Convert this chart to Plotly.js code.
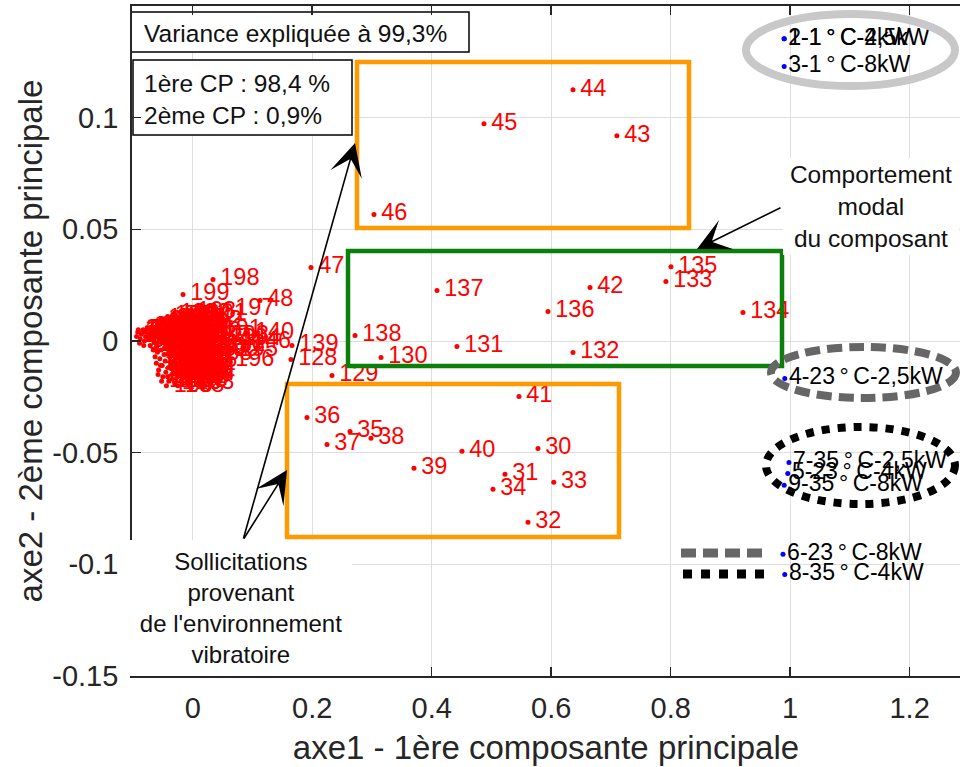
<!DOCTYPE html>
<html>
<head>
<meta charset="utf-8">
<script src="https://cdn.plot.ly/plotly-3.0.1.min.js"></script>
<style>
  html, body { margin: 0; padding: 0; background: #ffffff; }
  #chart { width: 960px; height: 767px; }
</style>
</head>
<body>
<div id="chart"></div>
<script>
// ================= DATA =================
// Isolated, readable points (id, axe1, axe2)
const outlierIds = [44,45,43,46,135,133,42,137,136,134,138,131,132,130,41,36,35,38,37,40,30,39,31,33,34,32,47,198,199,48,197,140,139,128,129];
const outlierX = [0.6365,0.4875,0.7100,0.3034,0.8005,0.7920,0.6650,0.4089,0.5947,0.9210,0.2717,0.4423,0.6365,0.3152,0.5461,0.1913,0.2633,0.2984,0.2248,0.4507,0.5779,0.3704,0.5227,0.6044,0.5026,0.5612,0.1980,0.0340,-0.0162,0.1126,0.0591,0.0920,0.1662,0.1645,0.2331];
const outlierY = [0.1125,0.0973,0.0919,0.0566,0.0333,0.0266,0.0239,0.0226,0.0132,0.0128,0.0025,-0.0025,-0.0051,-0.0074,-0.0248,-0.0342,-0.0405,-0.0436,-0.0463,-0.0494,-0.0481,-0.0570,-0.0597,-0.0633,-0.0664,-0.0812,0.0329,0.0275,0.0208,0.0181,0.0141,0.0034,-0.0020,-0.0083,-0.0154];

// Dense cluster near the origin (estimated positions)
const clusterIds = [
  1,2,3,4,5,6,7,8,9,10,11,12,13,14,15,16,17,18,19,20,21,22,23,24,25,26,27,28,29,
  49,50,51,52,53,54,55,56,57,58,59,60,61,62,63,64,65,66,67,68,69,70,71,72,73,74,75,76,77,78,79,80,
  81,82,83,84,85,86,87,88,89,90,91,92,93,94,95,96,97,98,99,100,101,102,103,104,105,106,107,108,109,110,111,112,113,
  114,115,116,117,118,119,120,121,122,123,124,125,126,127,141,142,143,144,145,147,148,149,150,151,152,153,154,155,
  156,157,158,159,160,161,162,163,164,165,166,167,168,169,170,171,172,173,174,175,176,177,178,179,180,181,182,183,184,185,
  146,186,187,188,189,190,191,192,193,194,195,196
];
const clusterX = [
  -0.094,-0.091,-0.089,-0.086,-0.083,-0.081,-0.078,-0.076,-0.074,-0.071,
  -0.069,-0.067,-0.064,-0.062,-0.060,-0.058,-0.056,-0.054,-0.052,-0.050,
  -0.048,-0.046,-0.044,-0.043,-0.041,-0.039,-0.037,-0.035,-0.034,-0.032,
  -0.030,-0.028,-0.027,-0.025,-0.023,-0.021,-0.020,-0.018,-0.016,-0.014,
  -0.013,-0.011,-0.009,-0.008,-0.006,-0.004,-0.003,-0.001,0.001,0.003,
  0.005,0.007,0.009,0.011,-0.088,-0.079,-0.072,-0.065,-0.061,-0.055,
  -0.049,-0.045,-0.040,-0.036,-0.031,-0.026,-0.022,-0.017,-0.012,-0.007,
  -0.002,0.002,-0.084,-0.070,-0.057,-0.047,-0.038,-0.029,-0.019,-0.010,
  0.004,0.013,-0.015,-0.005,-0.092,-0.082,-0.068,-0.053,-0.042,-0.033,
  -0.024,-0.003,0.008,-0.077,
  -0.066,-0.063,-0.061,-0.059,-0.057,-0.055,-0.053,-0.051,-0.050,-0.048,
  -0.046,-0.045,-0.043,-0.041,-0.040,-0.038,-0.037,-0.035,-0.033,-0.032,
  -0.030,-0.029,-0.027,-0.026,-0.024,-0.023,-0.021,-0.020,-0.018,-0.017,
  -0.015,-0.014,-0.012,-0.011,-0.009,-0.008,-0.006,-0.005,-0.044,-0.034,
  -0.025,-0.019,-0.013,-0.052,-0.058,-0.062,-0.039,-0.031,-0.016,-0.010,
  -0.028,-0.047,-0.036,-0.022,-0.054,-0.042,-0.007,-0.003,
  0.087,0.012,0.018,0.022,0.028,0.033,0.038,0.044,0.050,0.070,0.065,0.059
];
const clusterY = [
  0.002,0.005,-0.001,0.003,0.005,0.000,0.004,0.006,0.001,-0.002,
  0.005,0.005,0.002,0.004,-0.001,0.007,0.003,0.006,0.000,0.009,
  0.004,0.002,0.007,-0.002,0.005,0.010,0.001,0.006,0.003,0.008,
  -0.001,0.005,0.011,0.002,0.007,0.004,-0.002,0.009,0.003,0.006,
  0.000,0.011,0.005,0.002,0.008,-0.001,0.004,0.010,0.006,0.001,
  0.008,0.003,-0.001,0.005,0.001,0.002,0.003,0.000,0.006,0.001,
  0.005,-0.001,0.003,0.009,0.002,0.006,0.000,0.005,0.002,0.006,
  0.002,0.009,0.004,0.001,0.004,0.008,0.000,0.003,0.001,0.007,
  0.004,0.012,0.012,0.013,0.004,-0.002,0.006,0.010,0.011,0.012,
  0.010,0.011,0.009,0.005,
  -0.004,-0.007,-0.010,-0.005,-0.013,-0.008,-0.004,-0.011,-0.016,-0.006,
  -0.009,-0.014,-0.003,-0.012,-0.018,-0.007,-0.010,-0.015,-0.005,-0.013,
  -0.019,-0.008,-0.011,-0.016,-0.004,-0.014,-0.009,-0.018,-0.006,-0.012,
  -0.016,-0.003,-0.010,-0.014,-0.007,-0.019,-0.012,-0.004,-0.020,-0.017,
  -0.020,-0.015,-0.008,-0.018,-0.015,-0.003,-0.005,-0.003,-0.010,-0.017,
  -0.014,-0.003,-0.012,-0.007,-0.011,-0.016,-0.015,-0.009,
  -0.0005,-0.003,0.002,-0.006,0.001,-0.004,0.005,-0.002,0.002,0.001,-0.004,-0.0086
];

// Operating conditions (blue points, black labels)
const condLabels = ['1-1\u2009°\u2009C-2,5kW','2-1\u2009°\u2009C-4kW','3-1\u2009°\u2009C-8kW','4-23\u2009°\u2009C-2,5kW','5-23\u2009°\u2009C-4kW','6-23\u2009°\u2009C-8kW','7-35\u2009°\u2009C-2,5kW','8-35\u2009°\u2009C-4kW','9-35\u2009°\u2009C-8kW'];
const condX = [0.990,0.990,0.990,0.991,0.996,0.988,0.998,0.991,0.990];
const condY = [0.1353,0.1353,0.1229,-0.0168,-0.0593,-0.0955,-0.0544,-0.1045,-0.0646];

// Axis ticks
const xTickVals = [0,0.2,0.4,0.6,0.8,1,1.2];
const xTickText = ['0','0.2','0.4','0.6','0.8','1','1.2'];
const yTickVals = [-0.15,-0.1,-0.05,0,0.05,0.1];
const yTickText = ['-0.15','-0.1','-0.05','0','0.05','0.1'];

// ================= GEOMETRY HELPERS =================
const PL = 132, PR = 960, PT = 6, PB = 676;
const XR = [-0.1016, 1.2843], YR = [-0.15, 0.15];
function dx(px){ return XR[0] + (px - PL) / (PR - PL) * (XR[1] - XR[0]); }
function dy(py){ return YR[1] - (py - PT) / (PB - PT) * (YR[1] - YR[0]); }
function qx(px){ return (px - PL) / (PR - PL); }
function qy(py){ return (PB - py) / (PB - PT); }

const FONT = 'Liberation Sans, Arial, Helvetica, sans-serif';

const allIds = clusterIds.concat(outlierIds).map(String);
const allX = clusterX.concat(outlierX);
const allY = clusterY.concat(outlierY);

const traces = [
  { // red dots
    type: 'scatter', mode: 'markers', x: allX, y: allY,
    marker: { color: '#ff0000', size: 5 }, hoverinfo: 'skip', cliponaxis: true
  },
  { // red labels
    type: 'scatter', mode: 'markers+text', x: allX, y: allY, text: allIds,
    textposition: 'middle right',
    textfont: { family: FONT, size: 23.5, color: '#ff0000' },
    marker: { color: 'rgba(0,0,0,0)', size: 10 }, hoverinfo: 'skip', cliponaxis: true
  },
  { // conditions
    type: 'scatter', mode: 'markers+text', x: condX, y: condY, text: condLabels,
    textposition: 'middle right',
    textfont: { family: FONT, size: 23, color: '#000000' },
    marker: { color: '#0000ff', size: 5 }, hoverinfo: 'skip', cliponaxis: false
  }
];

const ORANGE = '#ff9900', GREEN = '#0a800a';
const shapes = [
  // text boxes (white, framed)
  { type:'rect', xref:'x', yref:'y', layer:'between', x0:dx(131), x1:dx(469), y0:dy(52), y1:dy(12),
    fillcolor:'#ffffff', line:{color:'#000000', width:1.5} },
  { type:'rect', xref:'x', yref:'y', layer:'between', x0:dx(133), x1:dx(352), y0:dy(135), y1:dy(60),
    fillcolor:'#ffffff', line:{color:'#000000', width:1.5} },
  // region boxes
  { type:'rect', xref:'x', yref:'y', x0:dx(357), x1:dx(689), y0:dy(228), y1:dy(62), line:{color:ORANGE, width:4.5} },
  { type:'rect', xref:'x', yref:'y', x0:dx(287), x1:dx(619), y0:dy(537), y1:dy(384), line:{color:ORANGE, width:4.5} },
  { type:'rect', xref:'x', yref:'y', x0:dx(348), x1:dx(782), y0:dy(366), y1:dy(251), line:{color:GREEN, width:4.5} },
  // ellipses
  { type:'circle', xref:'x', yref:'y', x0:dx(746), x1:dx(955), y0:dy(86), y1:dy(14), line:{color:'#c8c8c8', width:8} },
  { type:'circle', xref:'x', yref:'y', x0:dx(771), x1:dx(956), y0:dy(398), y1:dy(347), line:{color:'#666666', width:8, dash:'15px,7px'} },
  { type:'circle', xref:'x', yref:'y', x0:dx(766), x1:dx(955), y0:dy(504), y1:dy(427), line:{color:'#000000', width:8, dash:'dot'} },
  // style samples
  { type:'line', xref:'x', yref:'y', x0:dx(681), x1:dx(763), y0:dy(553), y1:dy(553), line:{color:'#666666', width:9, dash:'15px,7px'} },
  { type:'line', xref:'x', yref:'y', x0:dx(683), x1:dx(765), y0:dy(574), y1:dy(574), line:{color:'#000000', width:9, dash:'dot'} }
];

const annotations = [
  { xref:'paper', yref:'paper', x:qx(144), y:qy(33), xanchor:'left', yanchor:'middle', showarrow:false,
    text:'Variance expliquée à 99,3%', font:{family:FONT, size:24.5, color:'#111111'}, borderpad:0, borderwidth:0 },
  { xref:'paper', yref:'paper', x:qx(144), y:qy(99), xanchor:'left', yanchor:'middle', showarrow:false, align:'left',
    text:'1ère CP : 98,4 %<br>2ème CP : 0,9%', font:{family:FONT, size:24.5, color:'#111111'}, borderpad:0, borderwidth:0 },
  { xref:'paper', yref:'paper', x:qx(130), y:qy(540), xanchor:'left', yanchor:'top', showarrow:false, align:'center',
    width:222, height:136, bgcolor:'#ffffff', borderpad:0, borderwidth:0,
    text:"Sollicitations<br>provenant<br>de l'environnement<br>vibratoire", font:{family:FONT, size:24, color:'#111111'} },
  { xref:'paper', yref:'paper', x:qx(783), y:qy(158), xanchor:'left', yanchor:'top', showarrow:false, align:'center',
    width:176, height:97, bgcolor:'#ffffff', borderpad:0, borderwidth:0,
    text:'Comportement<br>modal<br>du composant', font:{family:FONT, size:24.5, color:'#111111'} },
  // arrows
  { xref:'x', yref:'y', axref:'x', ayref:'y', x:dx(355), y:dy(143), ax:dx(243), ay:dy(540), text:'',
    showarrow:true, arrowhead:3, arrowsize:3.4, arrowwidth:1.6, arrowcolor:'#000000', standoff:0 },
  { xref:'x', yref:'y', axref:'x', ayref:'y', x:dx(287), y:dy(470), ax:dx(243), ay:dy(540), text:'',
    showarrow:true, arrowhead:3, arrowsize:3.4, arrowwidth:1.6, arrowcolor:'#000000', standoff:0 },
  { xref:'x', yref:'y', axref:'x', ayref:'y', x:dx(697), y:dy(249), ax:dx(782), ay:dy(207), text:'',
    showarrow:true, arrowhead:3, arrowsize:3.4, arrowwidth:1.6, arrowcolor:'#000000', standoff:0 }
];

const axisCommon = {
  showgrid: true, gridcolor: '#dedede', gridwidth: 1, zeroline: false,
  showline: true, linecolor: '#262626', linewidth: 1.8,
  ticks: 'inside', ticklen: 9, tickwidth: 1.5, tickcolor: '#262626',
  tickfont: { family: FONT, size: 29, color: '#262626' },
  tickmode: 'array', fixedrange: true
};

const layout = {
  width: 960, height: 767,
  margin: { l: PL, r: 960 - PR, t: PT, b: 767 - PB, pad: 0 },
  paper_bgcolor: '#ffffff', plot_bgcolor: '#ffffff',
  showlegend: false,
  font: { family: FONT, color: '#262626' },
  xaxis: Object.assign({}, axisCommon, {
    range: XR, tickvals: xTickVals, ticktext: xTickText, mirror: 'ticks',
    ticklabelstandoff: 5,
    title: { text: 'axe1 - 1ère composante principale', font: { family: FONT, size: 33, color: '#262626' }, standoff: 13 }
  }),
  yaxis: Object.assign({}, axisCommon, {
    range: YR, tickvals: yTickVals, ticktext: yTickText, mirror: false,
    ticklabelstandoff: 6,
    title: { text: 'axe2 - 2ème composante principale', font: { family: FONT, size: 33, color: '#262626' }, standoff: 0 }
  }),
  shapes: shapes,
  annotations: annotations
};

Plotly.newPlot('chart', traces, layout, { staticPlot: true, displayModeBar: false });
</script>
</body>
</html>
